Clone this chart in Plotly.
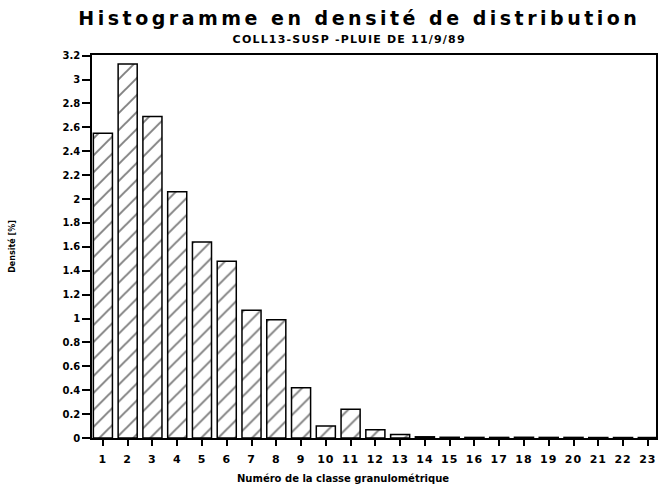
import plotly.graph_objects as go

# Classes granulométriques et densités (%)
classes = list(range(1, 24))
densite = [2.55, 3.13, 2.69, 2.06, 1.64, 1.48, 1.07, 0.99, 0.42, 0.10, 0.24,
           0.07, 0.03, 0.01, 0.006, 0.005, 0.005, 0.006, 0.005, 0.005, 0.004,
           0.004, 0.004]
y_ticks = [0, 0.2, 0.4, 0.6, 0.8, 1, 1.2, 1.4, 1.6, 1.8, 2, 2.2, 2.4, 2.6,
           2.8, 3, 3.2]
y_labels = ["0", "0.2", "0.4", "0.6", "0.8", "1", "1.2", "1.4", "1.6", "1.8",
            "2", "2.2", "2.4", "2.6", "2.8", "3", "3.2"]

fig = go.Figure(go.Bar(
    x=classes,
    y=densite,
    width=0.77,
    marker=dict(
        color="white",
        line=dict(color="black", width=1.5),
        pattern=dict(shape="/", fgcolor="black", bgcolor="white",
                     size=12, solidity=0.16),
    ),
))

fig.update_layout(
    width=660, height=491,
    margin=dict(l=92, r=2, t=55, b=53),
    paper_bgcolor="white", plot_bgcolor="white",
    showlegend=False,
    font=dict(family="DejaVu Sans", color="black"),
    title=dict(
        text="Histogramme en densité de distribution",
        x=0.474, xref="paper", xanchor="center", y=0.962, yanchor="middle",
        font=dict(family="DejaVu Sans", size=19, color="black", weight="bold"),
    ),
    annotations=[
        dict(text="COLL13-SUSP -PLUIE DE 11/9/89", xref="paper", yref="paper",
             x=0.456, y=1.0, yanchor="bottom", yshift=7, showarrow=False,
             font=dict(size=11, weight="bold", color="black")),
        dict(text="Numéro de la classe granulométrique", xref="paper",
             yref="paper", x=0.445, y=0, yanchor="middle", yshift=-40,
             showarrow=False,
             font=dict(size=10, weight="bold", color="black")),
    ],
)

fig.update_xaxes(
    range=[0.56, 23.33],
    tickmode="array", tickvals=classes, ticktext=[str(c) for c in classes],
    ticks="outside", ticklen=6, tickwidth=1.5, tickcolor="black",
    ticklabelstandoff=4,
    showline=True, linecolor="black", linewidth=1.5, mirror=True,
    showgrid=False, zeroline=False,
    tickfont=dict(size=11, weight="bold", color="black"),
)
fig.update_yaxes(
    range=[0, 3.205],
    tickmode="array", tickvals=y_ticks, ticktext=y_labels,
    ticks="outside", ticklen=8, tickwidth=1.5, tickcolor="black",
    showline=True, linecolor="black", linewidth=1.5, mirror=True,
    showgrid=False, zeroline=False,
    tickfont=dict(size=10, weight="bold", color="black"),
    title=dict(text="Densité [%]",
               font=dict(size=8, weight="bold", color="black"), standoff=46),
)

# Wider letter spacing for the headings
spacing_css = (
    "var s=document.createElement('style');"
    "s.textContent='.gtitle{letter-spacing:3.5px}"
    " .annotation[data-index=\"0\"] .annotation-text{letter-spacing:1.2px}"
    " .xtick text{letter-spacing:1px}';"
    "document.head.appendChild(s);"
)

fig.write_html("out.html", post_script=spacing_css)
